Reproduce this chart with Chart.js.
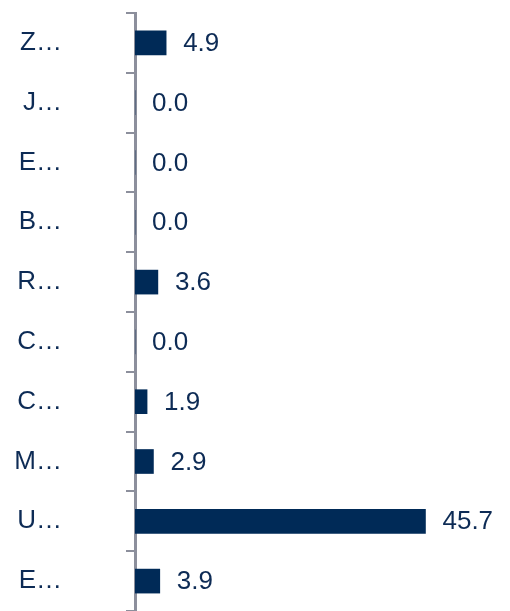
<!DOCTYPE html>
<html>
<head>
<meta charset="utf-8">
<script src="https://cdn.jsdelivr.net/npm/chart.js@4/dist/chart.umd.min.js"></script>
<style>
  html, body { margin: 0; padding: 0; background: #fff; }
  #wrap { width: 510px; height: 611px; }
</style>
</head>
<body>
<div id="wrap"><canvas id="chart"></canvas></div>
<script>
const categories = ['Z…', 'J…', 'E…', 'B…', 'R…', 'C…', 'C…', 'M…', 'U…', 'E…'];
const values = [4.9, 0.0, 0.0, 0.0, 3.6, 0.0, 1.9, 2.9, 45.7, 3.9];

const NAVY = '#002a57';
const TEXT = '#0d2b55';
const AXIS = '#8c8f9c';
const FONT = '"Liberation Sans", Arial, sans-serif';

// value labels to the right of each bar
const valueLabels = {
  id: 'valueLabels',
  afterDatasetsDraw(chart) {
    const ctx = chart.ctx;
    const meta = chart.getDatasetMeta(0);
    ctx.save();
    ctx.font = '26px ' + FONT;
    ctx.fillStyle = TEXT;
    ctx.textAlign = 'left';
    ctx.textBaseline = 'middle';
    meta.data.forEach((bar, i) => {
      ctx.fillText(values[i].toFixed(1), bar.x + 17, bar.y + 1);
    });
    ctx.restore();
  },
};

new Chart(document.getElementById('chart'), {
  type: 'bar',
  data: {
    labels: categories,
    datasets: [{
      data: values,
      backgroundColor: NAVY,
      barThickness: 24,
    }],
  },
  options: {
    indexAxis: 'y',
    responsive: true,
    maintainAspectRatio: false,
    animation: false,
    layout: { padding: { top: 13, bottom: 0, right: 0, left: 0 } },
    plugins: {
      legend: { display: false },
      tooltip: { enabled: false },
    },
    scales: {
      x: {
        display: false,
        min: 0,
        max: 59,
      },
      y: {
        offset: true,
        border: { display: true, color: AXIS, width: 3 },
        grid: {
          offset: true,
          drawOnChartArea: false,
          drawTicks: true,
          tickLength: 9,
          color: AXIS,
          lineWidth: 2,
        },
        ticks: {
          padding: 64,
          color: TEXT,
          font: { family: FONT, size: 26 },
          crossAlign: 'near',
        },
        afterFit(scale) {
          scale.width = 135;
          scale.paddingTop = 0;
          scale.paddingBottom = 0;
        },
      },
    },
  },
  plugins: [valueLabels],
});
</script>
</body>
</html>
